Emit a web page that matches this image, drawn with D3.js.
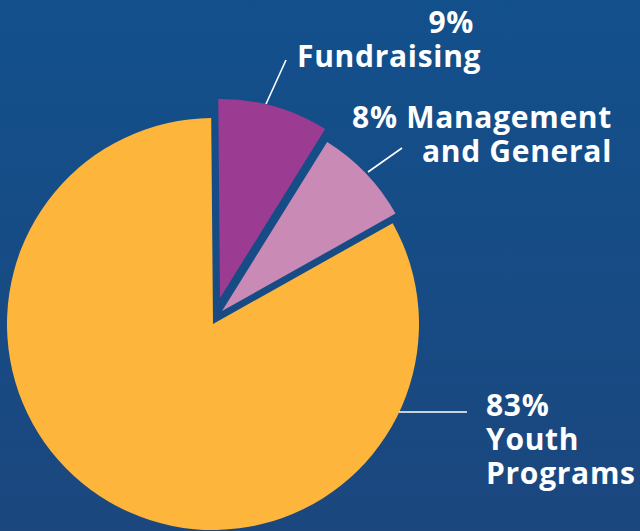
<!DOCTYPE html>
<html>
<head>
<meta charset="utf-8">
<script src="https://cdn.jsdelivr.net/npm/d3@7"></script>
<style>
  html, body { margin: 0; padding: 0; background: #164b84; }
  svg { display: block; }
  text { font-family: "Open Sans", "Noto Sans", sans-serif; font-weight: 700; fill: #ffffff; letter-spacing: 0.7px; }
</style>
</head>
<body>
<svg id="chart" width="640" height="531"></svg>
<script>
// ---- data ----
const categories = ["Fundraising", "Management and General", "Youth Programs"];
const values = [9, 8, 83];
const percentLabels = ["9%", "8%", "83%"];
const colors = ["#9b3c92", "#c98bb6", "#fdb63b"];

const W = 640, H = 531;
const svg = d3.select("#chart");

// background gradient
const defs = svg.append("defs");
const grad = defs.append("linearGradient").attr("id", "bg").attr("x1", 0).attr("y1", 0).attr("x2", 0).attr("y2", 1);
grad.append("stop").attr("offset", "0%").attr("stop-color", "#12508c");
grad.append("stop").attr("offset", "100%").attr("stop-color", "#1b477e");
svg.append("rect").attr("width", W).attr("height", H).attr("fill", "url(#bg)");

// pie layout
const cx = 213, cy = 324;
const R = 206, Rexp = 199;
const start = -0.5 * Math.PI / 180;
const pie = d3.pie().sort(null).startAngle(start).endAngle(start + 2 * Math.PI);
const arcs = pie(values);

// explosion offsets for the smaller slices
const explode = [[7, -26], [9, -13], [0, 0]];
const radii = [Rexp, Rexp, R];

const g = svg.append("g").attr("transform", `translate(${cx},${cy})`);
g.selectAll("path.slice")
  .data(arcs)
  .join("path")
  .attr("class", "slice")
  .attr("d", (d, i) => d3.arc().innerRadius(0).outerRadius(radii[i])(d))
  .attr("transform", (d, i) => `translate(${explode[i][0]},${explode[i][1]})`)
  .attr("fill", (d, i) => colors[i]);

// leader lines
const lines = [
  [[286, 60], [266, 104]],
  [[402, 148], [368, 172]],
  [[467, 412], [399, 412]]
];
svg.selectAll("line.leader")
  .data(lines)
  .join("line")
  .attr("class", "leader")
  .attr("x1", d => d[0][0]).attr("y1", d => d[0][1])
  .attr("x2", d => d[1][0]).attr("y2", d => d[1][1])
  .attr("stroke", "#ffffff").attr("stroke-width", 1.6);

// labels
const fs = 30;
// Fundraising
svg.append("text").attr("x", 474).attr("y", 33).attr("text-anchor", "end").attr("font-size", fs).text(percentLabels[0]);
svg.append("text").attr("x", 297).attr("y", 67).attr("text-anchor", "start").attr("font-size", fs).text(categories[0]);
// Management and General
svg.append("text").attr("x", 612).attr("y", 128).attr("text-anchor", "end").attr("font-size", fs)
  .text(percentLabels[1] + " Management");
svg.append("text").attr("x", 612).attr("y", 162).attr("text-anchor", "end").attr("font-size", fs)
  .text("and General");
// Youth Programs
svg.append("text").attr("x", 486).attr("y", 416).attr("text-anchor", "start").attr("font-size", fs).text(percentLabels[2]);
svg.append("text").attr("x", 486).attr("y", 450).attr("text-anchor", "start").attr("font-size", fs).text("Youth");
svg.append("text").attr("x", 486).attr("y", 484).attr("text-anchor", "start").attr("font-size", fs).text("Programs");
</script>
</body>
</html>
